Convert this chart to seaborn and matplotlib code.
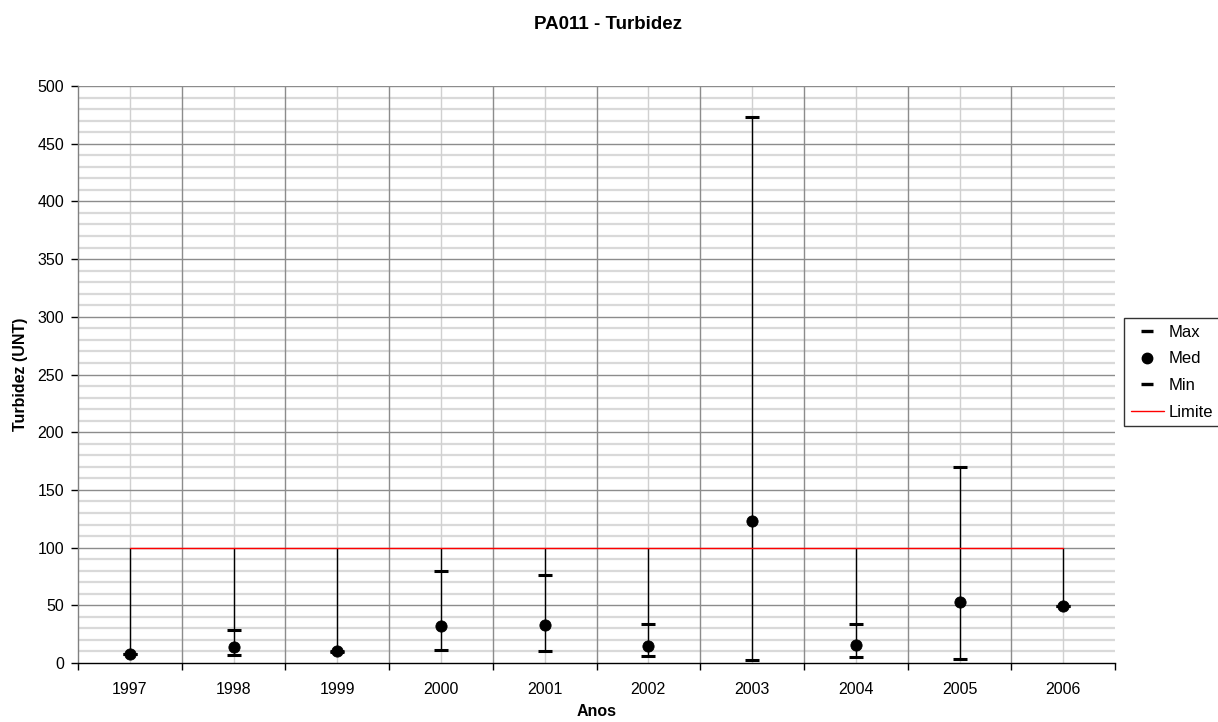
import matplotlib
matplotlib.use("Agg")
import matplotlib.pyplot as plt
import seaborn as sns
import pandas as pd
import numpy as np
from matplotlib.lines import Line2D

years = ["1997", "1998", "1999", "2000", "2001", "2002", "2003", "2004", "2005", "2006"]
max_vals = [8, 29, 10, 80, 76.5, 33.5, 473, 34, 170, 49]
med_vals = [8, 14, 10, 32, 33, 14.5, 123, 16, 52.5, 49.5]
min_vals = [8, 7, 9.5, 11, 10.5, 6, 3, 5, 3.5, 49]
limite = [100] * 10

sns.set_theme(style="white")
plt.rcParams['font.family'] = ['Liberation Sans', 'DejaVu Sans']
plt.rcParams['text.color'] = 'black'
plt.rcParams['axes.labelcolor'] = 'black'
plt.rcParams['xtick.color'] = 'black'
plt.rcParams['ytick.color'] = 'black'

df = pd.DataFrame({"pos": np.arange(len(years)), "Ano": years, "Max": max_vals,
                   "Med": med_vals, "Min": min_vals, "Limite": limite})

fig = plt.figure(figsize=(12.18, 7.22), dpi=100)
ax = fig.add_axes([0.064, 0.0817, 0.8515, 0.7992])

# gridlines
for y in range(0, 501, 10):
    if y % 50 == 0:
        continue
    ax.axhline(y, color="#d9d9d9", lw=1.6, zorder=0)
for y in range(50, 501, 50):
    ax.axhline(y, color="#8c8c8c", lw=1.0, zorder=0.5)
for i in range(len(years)):
    ax.axvline(i, color="#d0d0d0", lw=1.0, zorder=0.4)
for i in range(1, len(years)):
    ax.axvline(i - 0.5, color="#8c8c8c", lw=1.0, zorder=0.5)

# high-low lines
hi = df[["Max", "Med", "Min", "Limite"]].max(axis=1)
lo = df[["Max", "Med", "Min", "Limite"]].min(axis=1)
ax.vlines(df["pos"], lo, hi, color="black", lw=1.0, zorder=2)

sns.lineplot(data=df, x="pos", y="Limite", color="red", lw=1.0, ax=ax, zorder=3, legend=False)
sns.scatterplot(data=df, x="pos", y="Max", marker="_", s=100, color="black",
                linewidth=2.2, ax=ax, zorder=4, legend=False)
sns.scatterplot(data=df, x="pos", y="Min", marker="_", s=100, color="black",
                linewidth=2.2, ax=ax, zorder=4, legend=False)
sns.scatterplot(data=df, x="pos", y="Med", marker="o", s=65, color="black",
                edgecolor="black", ax=ax, zorder=5, legend=False)

ax.set_xlim(-0.5, len(years) - 0.5)
ax.set_ylim(0, 500)
ax.set_yticks(range(0, 501, 50))
ax.set_xticks(np.arange(len(years)))
ax.set_xticklabels(years)
ax.set_xticks(np.arange(-0.5, len(years)), minor=True)
ax.tick_params(axis="x", which="major", length=0, labelsize=11.5, pad=14)
ax.tick_params(axis="x", which="minor", length=5, width=1, color="black", direction="out")
ax.tick_params(axis="y", which="major", length=5, width=1, color="black", direction="out",
               labelsize=11.5, pad=5)
ax.xaxis.set_ticks_position("bottom")
ax.yaxis.set_ticks_position("left")
for side in ["top", "right"]:
    ax.spines[side].set_visible(False)
for side in ["left", "bottom"]:
    ax.spines[side].set_color("black")
    ax.spines[side].set_linewidth(1.0)
ax.spines["left"].set_color("#808080")

ax.set_xlabel("Anos", fontsize=11.5, fontweight="bold", labelpad=5)
ax.set_ylabel("Turbidez (UNT)", fontsize=11.5, fontweight="bold", labelpad=7)
fig.text(0.499, 0.966, "PA011 - Turbidez", fontsize=13.5, fontweight="bold",
         ha="center", va="center")

handles = [
    Line2D([], [], marker="_", color="black", ls="none", markersize=9, markeredgewidth=2.4),
    Line2D([], [], marker="o", color="black", ls="none", markersize=7.5),
    Line2D([], [], marker="_", color="black", ls="none", markersize=9, markeredgewidth=2.4),
    Line2D([], [], color="red", lw=1.0),
]
leg = fig.legend(handles, ["Max", "Med", "Min", "Limite"], loc="upper left",
                 bbox_to_anchor=(1124 / 1218, 1 - 318 / 722), frameon=True, fancybox=False,
                 fontsize=12, handlelength=2.0, handletextpad=0.25,
                 borderpad=0.4, labelspacing=0.7, borderaxespad=0)
leg.get_frame().set_edgecolor("black")
leg.get_frame().set_linewidth(1.0)

fig.savefig("out.png", dpi=100)
